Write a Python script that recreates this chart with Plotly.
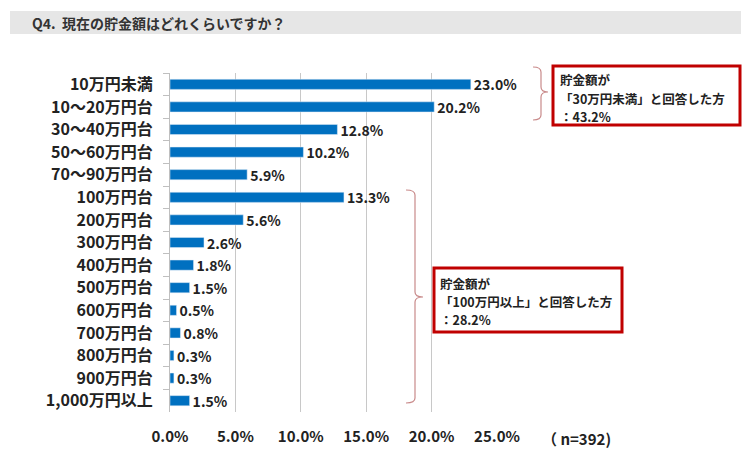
import plotly.graph_objects as go

categories = ["10万円未満", "10～20万円台", "30～40万円台", "50～60万円台", "70～90万円台",
              "100万円台", "200万円台", "300万円台", "400万円台", "500万円台",
              "600万円台", "700万円台", "800万円台", "900万円台", "1,000万円以上"]
values = [23.0, 20.2, 12.8, 10.2, 5.9, 13.3, 5.6, 2.6, 1.8, 1.5, 0.5, 0.8, 0.3, 0.3, 1.5]
x_ticks = [0, 5, 10, 15, 20, 25]
x_tick_labels = ["0.0%", "5.0%", "10.0%", "15.0%", "20.0%", "25.0%"]

title_text = "Q4.  現在の貯金額はどれくらいですか？"
box1_lines = ["貯金額が", "「30万円未満」と回答した方", "：43.2%"]
box2_lines = ["貯金額が", "「100万円以上」と回答した方", "：28.2%"]
n_text = "（ n=392)"

OFF = 8  # page body margin
W, H = 755, 465
L, R, T, B = 170, 497, 73, 412
FONT = "Noto Sans CJK JP"


def px(x):
    return (x - L) / (R - L)


def py(y):
    return (B - y) / (B - T)


fig = go.Figure(go.Bar(
    x=values, y=categories, orientation="h",
    marker=dict(color="#0070c0"),
    width=0.45,
    text=[f"{v:.1f}%" for v in values],
    textposition="outside",
    constraintext="none",
    textfont=dict(family=FONT, size=14, color="#222222", weight="bold"),
    cliponaxis=False,
))

shapes = []
shapes.append(dict(type="rect", xref="paper", yref="paper",
                   x0=px(10), x1=px(741), y0=py(34), y1=py(11),
                   fillcolor="#e6e6e6", line=dict(width=0), layer="below"))


def brace(x0, x1, x2, top, mid, bot, r=5):
    p = (f"M {px(x0)},{py(top)} Q {px(x1)},{py(top)} {px(x1)},{py(top + r)} "
         f"L {px(x1)},{py(mid - r)} Q {px(x1)},{py(mid)} {px(x2)},{py(mid)} "
         f"Q {px(x1)},{py(mid)} {px(x1)},{py(mid + r)} "
         f"L {px(x1)},{py(bot - r)} Q {px(x1)},{py(bot)} {px(x0)},{py(bot)}")
    return dict(type="path", xref="paper", yref="paper", path=p,
                line=dict(color="#c98a8a", width=1.2))


shapes.append(brace(533, 541, 548, 67, 92, 120))
shapes.append(brace(406, 415, 423, 190, 297, 403))
shapes.append(dict(type="rect", xref="paper", yref="paper",
                   x0=px(553), x1=px(740), y0=py(125), y1=py(66),
                   line=dict(color="#c00000", width=3), fillcolor="white"))
shapes.append(dict(type="rect", xref="paper", yref="paper",
                   x0=px(434), x1=px(622), y0=py(332), y1=py(268),
                   line=dict(color="#c00000", width=3), fillcolor="white"))

annotations = [
    dict(text=title_text, xref="paper", yref="paper", x=px(30), y=py(23),
         xanchor="left", yanchor="middle", showarrow=False,
         font=dict(family=FONT, size=14, color="#333333", weight="bold")),
    dict(text=n_text, xref="paper", yref="paper", x=px(540), y=py(438),
         xanchor="left", yanchor="middle", showarrow=False,
         font=dict(family=FONT, size=15, color="#222222", weight="bold")),
]

for lines, x0, y0 in [(box1_lines, 558, 80), (box2_lines, 438, 283)]:
    for i, line in enumerate(lines):
        annotations.append(dict(
            text=line, xref="paper", yref="paper", x=px(x0), y=py(y0 + 18 * i),
            xanchor="left", yanchor="middle", align="left", showarrow=False,
            font=dict(family=FONT, size=12.5, color="#222222", weight="bold")))

fig.update_layout(
    width=W - OFF, height=H - OFF,
    margin=dict(l=L - OFF, r=W - R, t=T - OFF, b=H - B),
    plot_bgcolor="white", paper_bgcolor="white",
    showlegend=False,
    shapes=shapes,
    annotations=annotations,
    xaxis=dict(range=[0, 25], tickvals=x_ticks, ticktext=x_tick_labels,
               showgrid=True, gridcolor="#c8c8c8", gridwidth=1,
               zeroline=False, showline=False, ticks="",
               ticklabelstandoff=14,
               tickfont=dict(family=FONT, size=15, color="#222222", weight="bold")),
    yaxis=dict(autorange="reversed", showline=True, linecolor="#bfbfbf", linewidth=1,
               ticks="outside", tickson="boundaries", ticklen=6, tickcolor="#bfbfbf",
               ticklabelstandoff=13,
               tickfont=dict(family=FONT, size=16, color="#222222", weight="bold")),
)

fig.write_html("out.html")
